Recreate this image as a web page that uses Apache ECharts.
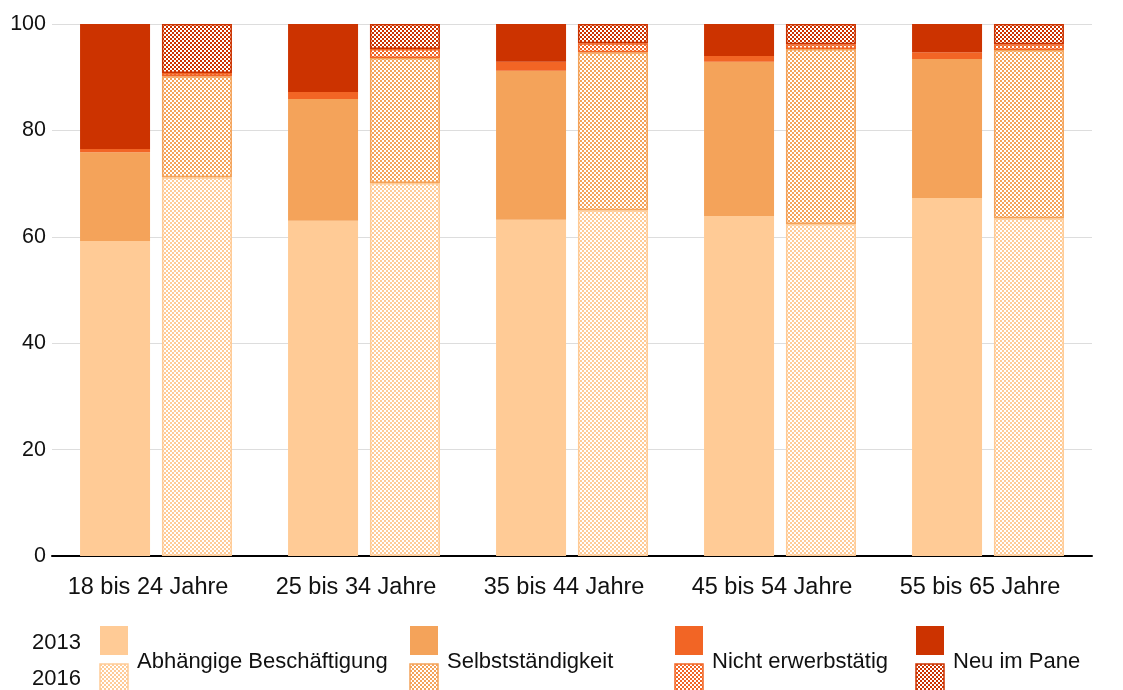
<!DOCTYPE html>
<html>
<head>
<meta charset="utf-8">
<script src="https://cdn.jsdelivr.net/npm/echarts@6/dist/echarts.min.js"></script>
<style>
  html, body { margin: 0; padding: 0; background: #fff; }
  #chart { width: 1123px; height: 690px; }
</style>
</head>
<body>
<div id="chart"></div>
<script>
// Kategorien und Werte (Anteile in %)
const categories = ['18 bis 24 Jahre', '25 bis 34 Jahre', '35 bis 44 Jahre', '45 bis 54 Jahre', '55 bis 65 Jahre'];
const groups = ['Abhängige Beschäftigung', 'Selbstständigkeit', 'Nicht erwerbstätig', 'Neu im Pane'];
const years = ['2013', '2016'];
const yTicks = [0, 20, 40, 60, 80, 100];

const abh2013 = [59.2, 63.0, 63.2, 63.9, 67.3];
const selbst2013 = [16.7, 22.9, 28.0, 29.0, 26.1];
const nicht2013 = [0.6, 1.3, 1.7, 1.1, 1.3];
const neu2013 = [23.5, 12.8, 7.1, 6.0, 5.3];

const abh2016 = [71.2, 70.1, 65.0, 62.4, 63.5];
const selbst2016 = [19.0, 23.5, 29.7, 32.9, 31.6];
const nicht2016 = [0.6, 1.7, 1.7, 0.9, 1.1];
const neu2016 = [9.2, 4.7, 3.6, 3.8, 3.8];

const colors = ['#FFCB96', '#F4A35A', '#F26525', '#CC3300'];
const font = 'Liberation Sans, Arial, sans-serif';

// Rastermuster fuer 2016
function hatch(color) {
  let c = document.createElement('canvas');
  c.width = 4; c.height = 4;
  let ctx = c.getContext('2d');
  ctx.fillStyle = '#fff';
  ctx.fillRect(0, 0, 4, 4);
  ctx.fillStyle = color;
  ctx.fillRect(0, 0, 2, 2);
  ctx.fillRect(2, 2, 2, 2);
  return c;
}

let data2013 = [abh2013, selbst2013, nicht2013, neu2013];
let data2016 = [abh2016, selbst2016, nicht2016, neu2016];

let series = [];
groups.forEach((g, i) => {
  series.push({
    name: g + ' 2013',
    type: 'bar',
    stack: '2013',
    barWidth: 70,
    barGap: '17%',
    data: data2013[i],
    itemStyle: { color: colors[i] }
  });
});
groups.forEach((g, i) => {
  series.push({
    name: g + ' 2016',
    type: 'bar',
    stack: '2016',
    barWidth: 70,
    barGap: '17%',
    data: data2016[i],
    itemStyle: {
      color: { image: hatch(colors[i]), repeat: 'repeat' },
      borderColor: colors[i],
      borderWidth: 1.5
    }
  });
});

// Legende
let legendItems = [
  { type: 'text', left: 32, top: 632, style: { text: years[0], font: '22px ' + font, fill: '#111' } },
  { type: 'text', left: 32, top: 668, style: { text: years[1], font: '22px ' + font, fill: '#111' } }
];
let legendX = [100, 410, 675, 916];
groups.forEach((g, i) => {
  legendItems.push({ type: 'rect', shape: { x: legendX[i], y: 626, width: 28, height: 29 }, style: { fill: colors[i] } });
  legendItems.push({ type: 'rect', shape: { x: legendX[i], y: 664, width: 28, height: 29 },
    style: { fill: { image: hatch(colors[i]), repeat: 'repeat' }, stroke: colors[i], lineWidth: 1.5 } });
  legendItems.push({ type: 'text', left: legendX[i] + 37, top: 651, style: { text: g, font: '22px ' + font, fill: '#111' } });
});

let chart = echarts.init(document.getElementById('chart'));
chart.setOption({
  animation: false,
  backgroundColor: '#fff',
  grid: { left: 52, right: 31, top: 24, bottom: 134 },
  xAxis: {
    type: 'category',
    data: categories,
    axisLine: { lineStyle: { color: '#000', width: 2 } },
    axisTick: { show: false },
    axisLabel: { interval: 0, color: '#111', fontSize: 23.5, fontFamily: font, margin: 20, padding: [0, 16, 0, 0] }
  },
  yAxis: {
    type: 'value',
    min: yTicks[0],
    max: yTicks[yTicks.length - 1],
    interval: yTicks[1] - yTicks[0],
    axisLine: { show: false },
    axisTick: { show: false },
    splitLine: { lineStyle: { color: '#DDDDDD', width: 1 } },
    axisLabel: { color: '#111', fontSize: 21.5, fontFamily: font, margin: 6 }
  },
  series: series,
  graphic: legendItems
});
</script>
</body>
</html>
